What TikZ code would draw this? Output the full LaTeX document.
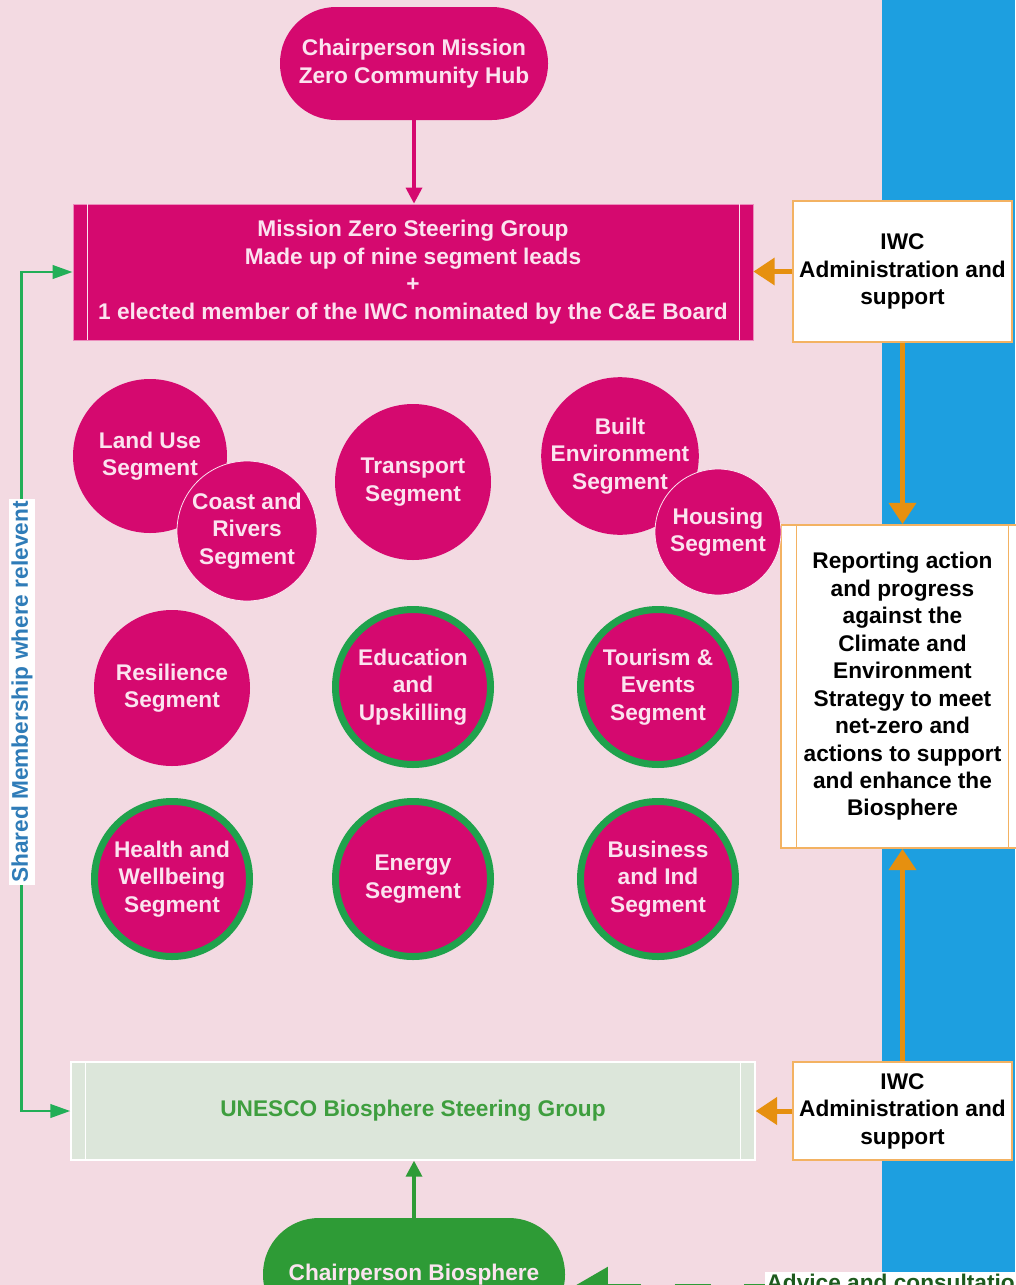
\documentclass[tikz,border=0pt]{standalone}
\usepackage{fontspec}
\setmainfont{Liberation Sans}
\usetikzlibrary{arrows.meta}
\definecolor{bgpink}{HTML}{F3DAE2}
\definecolor{mag}{HTML}{D5096F}
\definecolor{ptxt}{HTML}{FBE3EF}
\definecolor{gring}{HTML}{1FA24C}
\definecolor{orng}{HTML}{E6900F}
\definecolor{oline}{HTML}{F3B262}
\definecolor{bband}{HTML}{1D9FE0}
\definecolor{gpill}{HTML}{2E9B36}
\definecolor{unfill}{HTML}{DCE6DA}
\definecolor{untxt}{HTML}{3E9E3E}
\definecolor{lblue}{HTML}{2F7CB8}
\definecolor{gline}{HTML}{22AE57}
\definecolor{dgreen}{HTML}{1E5B1E}
\begin{document}
\begin{tikzpicture}[x=0.75pt,y=-0.75pt,
  txt/.style={font=\bfseries\fontsize{17pt}{20.6pt}\selectfont, align=center},
  seg/.style={circle, fill=mag, text=ptxt, txt, inner sep=0pt, minimum size=#1},
  gseg/.style={seg=116.25pt, draw=gring, line width=5.25pt},
  pill/.style={rectangle, rounded corners=42pt, txt, inner sep=0pt, minimum height=84.75pt},
  wbox/.style={rectangle, fill=white, draw=oline, line width=1.2pt, txt, text=black, inner sep=0pt},
  oarr/.style={draw=orng, line width=3.75pt, -{Triangle[length=16pt,width=20pt]}},
  marr/.style={draw=mag, line width=2.5pt, -{Triangle[length=12pt,width=12pt]}},
  garr/.style={draw=gpill, line width=2.5pt, -{Triangle[length=12pt,width=12pt]}},
  larr/.style={draw=gline, line width=2.2pt, {Triangle[length=15pt,width=10pt]}-{Triangle[length=15pt,width=10pt]}},
  inner/.style={draw=#1, line width=0.8pt}
]
% background
\fill[bgpink] (0,0) rectangle (1015,1285);
\fill[bband] (882,0) rectangle (1015,1272);
\useasboundingbox (0,0) rectangle (1015,1285);

% top chairperson
\node[pill, fill=mag, text=ptxt, minimum width=201pt] (chair1) at (414,63.5)
  {Chairperson Mission\\Zero Community Hub};

% steering group
\node[rectangle, fill=mag, draw=ptxt!60!mag, line width=0.6pt, text=ptxt, txt, inner sep=0pt,
      minimum width=510pt, minimum height=102pt] (sg) at (413,272)
  {Mission Zero Steering Group\\Made up of nine segment leads\\+\\1 elected member of the IWC nominated by the C\&E Board};
\draw[inner=ptxt] ([xshift=11.25pt]sg.north west) -- ([xshift=11.25pt]sg.south west);
\draw[inner=ptxt] ([xshift=-10.5pt]sg.north east) -- ([xshift=-10.5pt]sg.south east);

% IWC top box
\node[wbox, minimum width=164.25pt, minimum height=105.75pt] (iwc1) at (902.5,271.5)
  {IWC\\Administration and\\support};

% reporting box
\node[wbox, minimum width=182.25pt, minimum height=242.25pt] (rep) at (902.5,686.5)
  {Reporting action\\and progress\\against the\\Climate and\\Environment\\Strategy to meet\\net-zero and\\actions to support\\and enhance the\\Biosphere};
\draw[inner=oline] ([xshift=12pt]rep.north west) -- ([xshift=12pt]rep.south west);
\draw[inner=oline] ([xshift=-12pt]rep.north east) -- ([xshift=-12pt]rep.south east);

% IWC bottom box
\node[wbox, minimum width=164.25pt, minimum height=73.5pt] (iwc2) at (902.5,1111)
  {IWC\\Administration and\\support};

% UNESCO box
\node[rectangle, fill=unfill, draw=white, line width=1pt, txt, text=untxt, inner sep=0pt,
      minimum width=513pt, minimum height=73.5pt] (un) at (413,1111)
  {UNESCO Biosphere Steering Group};
\draw[inner=white] ([xshift=11.25pt]un.north west) -- ([xshift=11.25pt]un.south west);
\draw[inner=white] ([xshift=-11.25pt]un.north east) -- ([xshift=-11.25pt]un.south east);

% bottom chairperson
\node[pill, fill=gpill, text=ptxt, minimum width=226.5pt] (chair2) at (414,1274.5)
  {Chairperson Biosphere};

% segments
\node[seg=115.5pt] (land) at (150,456) {Land Use\\Segment};
\node[seg=105pt, draw=ptxt, line width=0.6pt] (coast) at (247,531) {Coast and\\Rivers\\Segment};
\node[seg=117pt] (trans) at (413,482) {Transport\\Segment};
\node[seg=117pt] (built) at (620,456) {Built\\Environment\\Segment};
\node[seg=94.5pt, draw=ptxt, line width=0.6pt] (house) at (718,532) {Housing\\Segment};
\node[seg=117pt] (resil) at (172,688) {Resilience\\Segment};
\node[gseg] (edu) at (413,687) {Education\\and\\Upskilling};
\node[gseg] (tour) at (658,687) {Tourism \&\\Events\\Segment};
\node[gseg] (health) at (172,879) {Health and\\Wellbeing\\Segment};
\node[gseg] (energy) at (413,879) {Energy\\Segment};
\node[gseg] (bus) at (658,879) {Business\\and Ind\\Segment};

% connectors
\draw[marr] (chair1.south) -- (chair1.south |- sg.north);
\draw[oarr] (iwc1.west) -- (iwc1.west -| sg.east);
\draw[oarr] (iwc1.south) -- (rep.north);
\draw[oarr] (iwc2.north) -- (rep.south);
\draw[oarr] (iwc2.west) -- (iwc2.west -| un.east);
\draw[garr] (chair2.north) -- (chair2.north |- un.south);
\draw[larr] (sg.west) -- ++(-51,0) |- (un.west);
\node[rotate=90, fill=white, text=lblue, txt, inner sep=1.5pt] (shared) at (22,692)
  {Shared Membership where relevent};

% advice arrow
\coordinate (advend) at (766,1291);
\draw[draw=gpill, line width=11.25pt, dash pattern=on 27pt off 25pt,
      {Triangle[length=32pt,width=34pt]}-] (advend -| chair2.east) -- (advend);
\node[anchor=north west, fill=white, txt, text=dgreen, inner sep=1pt, text depth=8pt] (advice) at (765,1272)
  {Advice and consultation};
\end{tikzpicture}
\end{document}
